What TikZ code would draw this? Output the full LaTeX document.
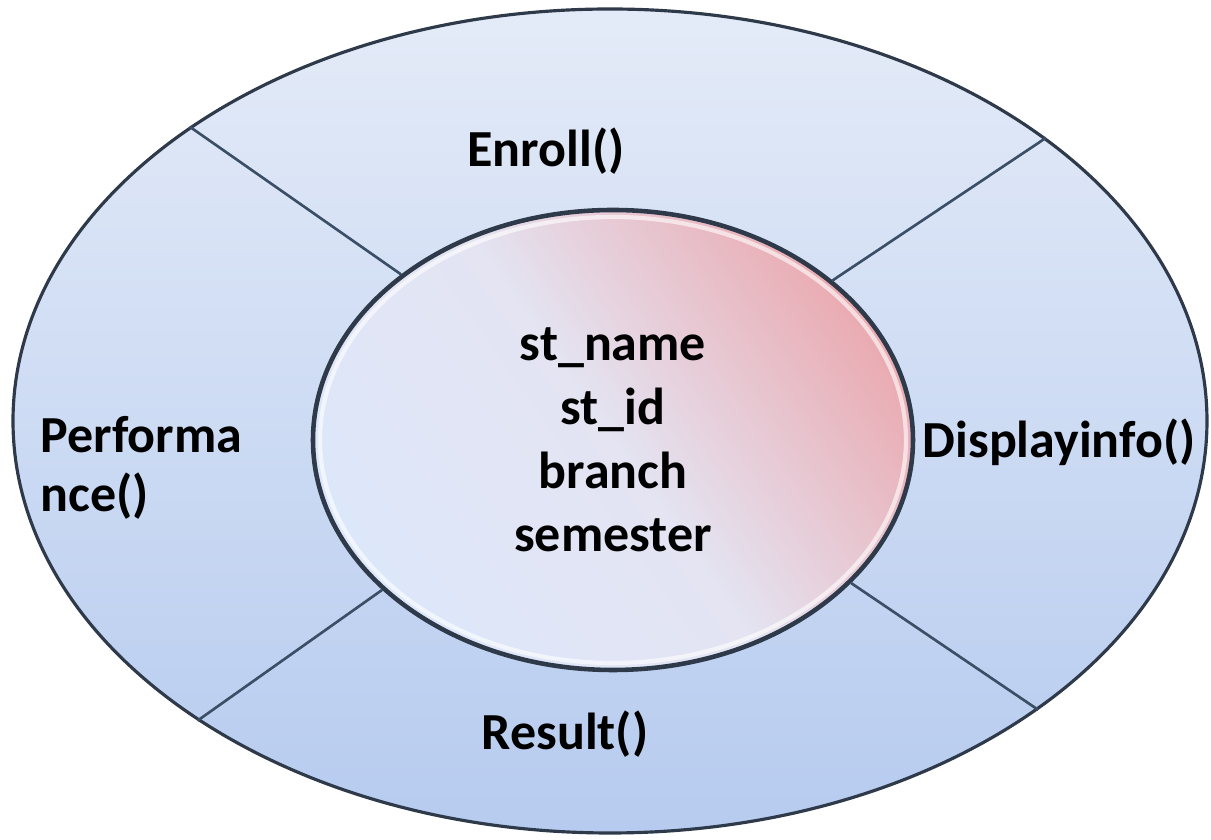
\documentclass[tikz,border=0pt]{standalone}
\usepackage{fontspec}
\setmainfont{Carlito}
\usetikzlibrary{positioning,shapes.geometric}
\definecolor{ringTop}{HTML}{E4EBF8}
\definecolor{ringBottom}{HTML}{B6CBEF}
\definecolor{coreBlue}{HTML}{DDE7FA}
\definecolor{corePink}{HTML}{EAABB2}
\definecolor{coreMid}{HTML}{E4E4F2}
\definecolor{edgeDark}{HTML}{2E3A4A}
\definecolor{lineBlue}{HTML}{3A4E66}

\begin{document}
\begin{tikzpicture}[
    ring/.style={ellipse, draw=edgeDark, line width=0.9pt, top color=ringTop, bottom color=ringBottom,
      minimum width=11.94cm, minimum height=8.24cm, inner sep=0pt},
    core/.style={ellipse, draw=edgeDark, line width=1.3pt, top color=corePink, bottom color=coreBlue,
      middle color=coreMid, shading angle=-55, minimum width=6.0cm, minimum height=4.6cm, inner sep=0pt,
      align=center, font=\bfseries\fontsize{14.8}{18.1}\selectfont},
    bevel/.style={draw=white, opacity=0.6, line width=1.2pt},
    divider/.style={draw=lineBlue, line width=0.75pt},
    method/.style={font=\bfseries\fontsize{14.8}{16.8}\selectfont, inner sep=0pt},
  ]
  \useasboundingbox (0,0) rectangle (12.11,8.40);

  % Ellipses
  \node[ring] (ring) at (6.10,4.19) {};
  \node[core] (core) at (6.13,4.00) {st\_name\\st\_id\\branch\\semester};
  \draw[bevel] (core.center) ellipse [x radius=2.93cm, y radius=2.23cm];

  % Dividers
  \draw[divider] (core.142) -- (ring.145);
  \draw[divider] (core.36) -- (ring.33);
  \draw[divider] (core.213) -- (ring.216);
  \draw[divider] (core.329) -- (ring.326);

  % Methods
  \node[method, anchor=base] (enroll) at (5.46,6.73) {Enroll()};
  \node[method, anchor=base west] (display) at (9.22,3.82) {Displayinfo()};
  \node[method, anchor=base] (result) at (5.65,0.90) {Result()};
  \node[method, anchor=base west, align=left] (perform) at (0.40,3.28) {Performa\\nce()};
\end{tikzpicture}
\end{document}
